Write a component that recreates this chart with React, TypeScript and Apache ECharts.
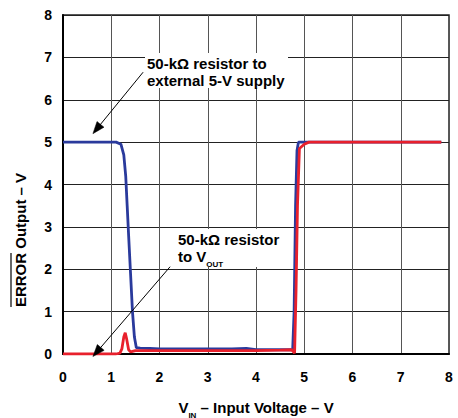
import React, { useEffect, useRef } from "react";
import * as echarts from "echarts";

const xTicks = [0, 1, 2, 3, 4, 5, 6, 7, 8];
const yTicks = [0, 1, 2, 3, 4, 5, 6, 7, 8];

// 50-kΩ resistor to external 5-V supply (blue)
const blueX = [0, 1.0, 1.1, 1.2, 1.26, 1.3, 1.33, 1.36, 1.4, 1.44, 1.48, 1.52, 1.6, 1.8, 2.0, 2.5, 3.0, 3.5, 3.8, 4.0, 4.5, 4.76, 4.79, 4.82, 4.85, 4.88, 5.0, 6.0, 7.0, 7.84];
const blueY = [5, 5, 5, 4.95, 4.7, 4.2, 3.5, 2.8, 1.9, 1.0, 0.4, 0.15, 0.14, 0.13, 0.12, 0.12, 0.12, 0.12, 0.13, 0.1, 0.1, 0.1, 1.0, 3.5, 4.8, 5, 5, 5, 5, 5];

// 50-kΩ resistor to VOUT (red)
const redX = [0, 1.1, 1.18, 1.22, 1.26, 1.29, 1.32, 1.36, 1.4, 1.5, 2.0, 2.5, 3.0, 3.5, 4.0, 4.5, 4.74, 4.8, 4.83, 4.86, 4.9, 5.0, 5.1, 6.0, 7.0, 7.84];
const redY = [0, 0, 0.02, 0.12, 0.4, 0.5, 0.35, 0.1, 0.05, 0.08, 0.08, 0.08, 0.08, 0.08, 0.08, 0.09, 0.1, 0.02, 1.5, 3.5, 4.85, 4.95, 5, 5, 5, 5];

// annotation arrows (data coordinates: start -> tip)
const arrow1 = [[1.66, 6.65], [0.62, 5.2]];
const arrow2 = [[2.22, 2.06], [0.62, -0.06]];

const FONT = "Liberation Sans, Arial, sans-serif";

function measure(text: string, font: string) {
  const c = document.createElement("canvas").getContext("2d")!;
  c.font = font;
  return c.measureText(text).width;
}

export default function App() {
  const ref = useRef<HTMLDivElement>(null);
  useEffect(() => {
    document.body.style.margin = "0";
    const chart = echarts.init(ref.current!, null, { renderer: "svg" });
    const blue = blueX.map((x, i) => [x, blueY[i]]);
    const red = redX.map((x, i) => [x, redY[i]]);

    const nameFont = `bold 15px ${FONT}`;
    const full = "ERROR Output – V";
    const W = measure(full, nameFont);
    const wE = measure("ERROR", nameFont);

    chart.setOption({
      animation: false,
      grid: {
        left: 63,
        right: 9,
        top: 15,
        bottom: 64,
        containLabel: false,
        outerBoundsMode: "none",
        show: true,
        borderColor: "#222",
        borderWidth: 1.5,
      },
      xAxis: {
        type: "value",
        min: 0,
        max: 8,
        interval: 1,
        axisLine: { show: true, onZero: false, lineStyle: { color: "#000", width: 2 } },
        axisTick: { show: false },
        axisLabel: {
          color: "#000",
          fontWeight: "bold",
          fontSize: 14,
          fontFamily: FONT,
          margin: 16,
          formatter: (v: number) => (xTicks.includes(v) ? String(v) : ""),
        },
        splitLine: { show: true, lineStyle: { color: "#555", width: 1 } },
        name: "{v|V}{s|IN}{t| – Input Voltage – V}",
        nameLocation: "middle",
        nameGap: 46,
        nameTextStyle: {
          rich: {
            v: { fontSize: 15, fontWeight: "bold", fontFamily: FONT, color: "#000" },
            s: { fontSize: 8, fontWeight: "bold", fontFamily: FONT, color: "#000", verticalAlign: "bottom", padding: [0, 0, -4, 0] },
            t: { fontSize: 15, fontWeight: "bold", fontFamily: FONT, color: "#000" },
          },
        },
      },
      yAxis: {
        type: "value",
        min: 0,
        max: 8,
        interval: 1,
        axisLine: { show: true, lineStyle: { color: "#000", width: 2 } },
        axisTick: { show: false },
        axisLabel: {
          color: "#000",
          fontWeight: "bold",
          fontSize: 14,
          fontFamily: FONT,
          margin: 11,
          formatter: (v: number) => (yTicks.includes(v) ? String(v) : ""),
        },
        splitLine: { show: true, lineStyle: { color: "#222", width: 1 } },
      },
      series: [
        {
          type: "line",
          data: blue,
          showSymbol: false,
          symbol: "none",
          lineStyle: { color: "#2a3a9c", width: 2.8 },
          z: 3,
        },
        {
          type: "line",
          data: red,
          showSymbol: false,
          symbol: "none",
          lineStyle: { color: "#e8202c", width: 2.8 },
          z: 4,
        },
      ],
    });

    const px = (d: number[]) => chart.convertToPixel({ gridIndex: 0 }, d) as number[];
    const arrowEls = (a: number[][]) => {
      const s = px(a[0]);
      const t = px(a[1]);
      const dx = t[0] - s[0];
      const dy = t[1] - s[1];
      const len = Math.hypot(dx, dy);
      const ux = dx / len;
      const uy = dy / len;
      const hl = 12;
      const hw = 4.5;
      const bx = t[0] - ux * hl;
      const by = t[1] - uy * hl;
      return [
        {
          type: "line",
          z: 102,
          shape: { x1: s[0], y1: s[1], x2: bx + ux * 2, y2: by + uy * 2 },
          style: { stroke: "#000", lineWidth: 1 },
        },
        {
          type: "polygon",
          z: 103,
          shape: {
            points: [
              [t[0], t[1]],
              [bx - uy * hw, by + ux * hw],
              [bx + uy * hw, by - ux * hw],
            ],
          },
          style: { fill: "#000", stroke: "#000", lineWidth: 0.5 },
        },
      ];
    };

    chart.setOption({
      graphic: [
        ...arrowEls(arrow1),
        ...arrowEls(arrow2),
        {
          type: "rect",
          z: 100,
          shape: { x: 145, y: 53, width: 143, height: 35 },
          style: { fill: "#fff" },
        },
        {
          type: "text",
          z: 101,
          left: 147,
          top: 55,
          style: {
            text: "50-kΩ resistor to\nexternal 5-V supply",
            font: `bold 15px ${FONT}`,
            lineHeight: 17,
            fill: "#000",
          },
        },
        {
          type: "rect",
          z: 100,
          shape: { x: 175, y: 229, width: 116, height: 38 },
          style: { fill: "#fff" },
        },
        {
          type: "text",
          z: 101,
          left: 178,
          top: 232,
          style: {
            text: "{a|50-kΩ resistor}\n{a|to V}{s|OUT}",
            rich: {
              a: { font: `bold 15px ${FONT}`, fill: "#000", lineHeight: 17 },
              s: { font: `bold 8px ${FONT}`, fill: "#000", lineHeight: 17, verticalAlign: "bottom", padding: [0, 0, -3, 0] },
            },
          },
        },
        {
          type: "group",
          x: 20,
          y: 240,
          rotation: Math.PI / 2,
          z: 101,
          children: [
            {
              type: "text",
              x: 0,
              y: 0,
              style: {
                text: full,
                font: nameFont,
                fill: "#000",
                align: "center",
                verticalAlign: "middle",
              },
            },
            {
              type: "line",
              shape: { x1: -W / 2, y1: -9, x2: -W / 2 + wE, y2: -9 },
              style: { stroke: "#000", lineWidth: 1.2 },
            },
          ],
        },
      ],
    });
    return () => chart.dispose();
  }, []);
  return <div ref={ref} style={{ width: 458, height: 418 }} />;
}
